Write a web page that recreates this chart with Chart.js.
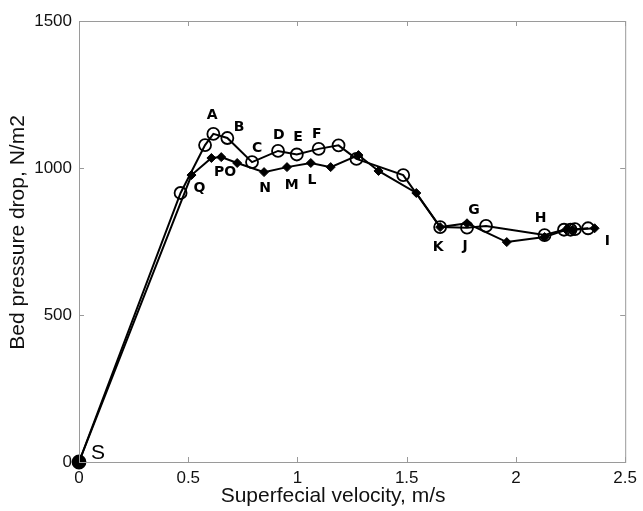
<!DOCTYPE html>
<html lang="en">
<head>
<meta charset="UTF-8">
<title>Bed pressure drop</title>
<script src="https://cdn.jsdelivr.net/npm/chart.js"></script>
<style>
  html, body { margin: 0; padding: 0; background: #fff; }
  #wrap { width: 643px; height: 511px; position: relative; }
</style>
</head>
<body>
<div id="wrap"><canvas id="myChart"></canvas></div>
<script>
// open circles series
const circleX = [0, 0.465, 0.577, 0.615, 0.679, 0.792, 0.911, 0.997, 1.097, 1.188, 1.270, 1.484, 1.653, 1.776, 1.863, 2.131, 2.22, 2.25, 2.27, 2.33];
const circleY = [0, 915, 1078, 1116, 1102, 1020, 1058, 1046, 1065, 1077, 1031, 976, 799, 797, 803, 772, 790, 790, 792, 795];

// filled diamonds series
const diamondX = [0, 0.515, 0.606, 0.651, 0.724, 0.847, 0.952, 1.061, 1.152, 1.279, 1.371, 1.544, 1.653, 1.776, 1.958, 2.131, 2.23, 2.26, 2.36];
const diamondY = [0, 976, 1034, 1037, 1017, 986, 1003, 1017, 1003, 1044, 990, 915, 799, 812, 748, 765, 790, 790, 795];

// letter markers written on the plot (data coords)
const noteText = ['A', 'B', 'C', 'D', 'E', 'F', 'Q', 'PO', 'N', 'M', 'L', 'G', 'H', 'K', 'J', 'I', 'S'];
const noteX = [0.610, 0.733, 0.815, 0.915, 1.002, 1.088, 0.551, 0.669, 0.852, 0.974, 1.066, 1.808, 2.113, 1.644, 1.767, 2.418, 0.087];
const noteY = [1180, 1139, 1068, 1112, 1105, 1116, 932, 986, 932, 942, 959, 857, 830, 731, 735, 752, 31];

const xTicks = [0, 0.5, 1, 1.5, 2, 2.5];
const yTicks = [0, 500, 1000, 1500];
const xTitle = 'Superfecial velocity, m/s';
const yTitle = 'Bed pressure drop, N/m2';

const toPts = (xs, ys) => xs.map((x, i) => ({ x: x, y: ys[i] }));

// box around the plot, inward ticks, axis titles and the letters
const framePlugin = {
  id: 'frame',
  afterDatasetsDraw(chart) {
    const { ctx, chartArea: a, scales } = chart;
    ctx.save();
    ctx.strokeStyle = '#9a9a9a';
    ctx.lineWidth = 1;
    ctx.strokeRect(a.left + 0.5, a.top + 0.5, a.right - a.left, a.bottom - a.top);
    ctx.beginPath();
    xTicks.forEach(v => {
      const px = Math.round(scales.x.getPixelForValue(v)) + 0.5;
      ctx.moveTo(px, a.bottom); ctx.lineTo(px, a.bottom - 5);
      ctx.moveTo(px, a.top); ctx.lineTo(px, a.top + 5);
    });
    yTicks.forEach(v => {
      const py = Math.round(scales.y.getPixelForValue(v)) + 0.5;
      ctx.moveTo(a.left, py); ctx.lineTo(a.left + 5, py);
      ctx.moveTo(a.right, py); ctx.lineTo(a.right - 5, py);
    });
    ctx.stroke();

    // axis titles (sit a little left/up of the plot centre, as in the source)
    ctx.fillStyle = '#111';
    ctx.font = '21px "Liberation Sans", Arial, sans-serif';
    ctx.textAlign = 'center';
    ctx.textBaseline = 'middle';
    ctx.fillText(xTitle, (a.left + a.right) / 2 - 19, a.bottom + 34);
    ctx.save();
    ctx.translate(18, (a.top + a.bottom) / 2 - 9);
    ctx.rotate(-Math.PI / 2);
    ctx.fillText(yTitle, 0, 0);
    ctx.restore();

    ctx.fillStyle = '#000';
    noteText.forEach((t, i) => {
      ctx.font = t === 'S' ? '21px "Liberation Sans", Arial, sans-serif' : 'bold 14px "DejaVu Sans", sans-serif';
      ctx.fillText(t, scales.x.getPixelForValue(noteX[i]), scales.y.getPixelForValue(noteY[i]));
    });
    ctx.restore();
  }
};

const tickFont = { family: '"Liberation Sans", Arial, sans-serif', size: 17 };

new Chart(document.getElementById('myChart'), {
  type: 'scatter',
  data: {
    datasets: [
      {
        label: 'diamonds',
        data: toPts(diamondX, diamondY),
        showLine: true,
        borderColor: '#000',
        borderWidth: 2,
        pointStyle: 'rectRot',
        pointRadius: 4.5,
        pointBorderWidth: 1,
        pointBorderColor: '#000',
        pointBackgroundColor: '#000',
        tension: 0,
        clip: false
      },
      {
        label: 'circles',
        data: toPts(circleX, circleY),
        showLine: true,
        borderColor: '#000',
        borderWidth: 2,
        pointStyle: 'circle',
        pointRadius: circleX.map((x, i) => i === 0 ? 6.5 : 6),
        pointBorderWidth: 1.8,
        pointBorderColor: '#000',
        pointBackgroundColor: circleX.map((x, i) => i === 0 ? '#000' : 'rgba(255,255,255,0)'),
        tension: 0,
        clip: false
      }
    ]
  },
  options: {
    responsive: true,
    maintainAspectRatio: false,
    animation: false,
    layout: { padding: { left: 0, right: 15, top: 21, bottom: 0 } },
    plugins: { legend: { display: false }, tooltip: { enabled: false } },
    scales: {
      x: {
        type: 'linear',
        min: 0, max: 2.5,
        afterBuildTicks: s => { s.ticks = xTicks.map(v => ({ value: v })); },
        afterFit: s => { s.height = 49; },
        grid: { display: false, drawTicks: false },
        border: { display: true, color: '#9a9a9a' },
        ticks: { color: '#111', font: tickFont, padding: 6, maxRotation: 0, callback: v => String(v) }
      },
      y: {
        type: 'linear',
        min: 0, max: 1500,
        afterBuildTicks: s => { s.ticks = yTicks.map(v => ({ value: v })); },
        afterFit: s => { s.width = 79; },
        grid: { display: false, drawTicks: false },
        border: { display: true, color: '#9a9a9a' },
        ticks: { color: '#111', font: tickFont, padding: 7, callback: v => String(v) }
      }
    }
  },
  plugins: [framePlugin]
});
</script>
</body>
</html>
